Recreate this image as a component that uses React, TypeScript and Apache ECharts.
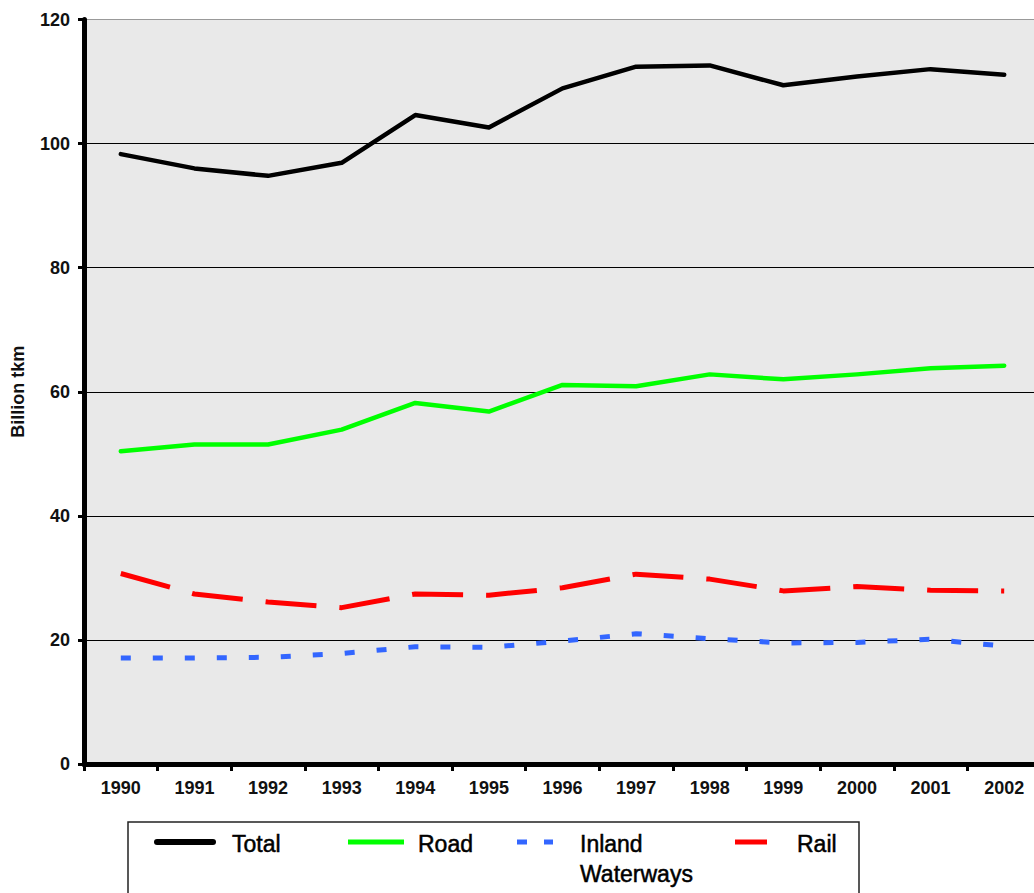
import React, { useEffect, useRef } from "react";
import * as echarts from "echarts";

const years = ["1990", "1991", "1992", "1993", "1994", "1995", "1996", "1997", "1998", "1999", "2000", "2001", "2002"];
const total = [98.3, 96.0, 94.8, 96.9, 104.6, 102.6, 108.9, 112.4, 112.6, 109.4, 110.8, 112.0, 111.1];
const road = [50.4, 51.5, 51.5, 53.9, 58.2, 56.8, 61.1, 60.9, 62.8, 62.0, 62.8, 63.8, 64.2];
const inland = [17.1, 17.1, 17.2, 17.8, 18.9, 18.8, 19.8, 21.0, 20.2, 19.5, 19.6, 20.1, 19.0];
const rail = [30.7, 27.4, 26.1, 25.2, 27.4, 27.2, 28.4, 30.6, 29.8, 27.9, 28.6, 28.0, 27.9];
const seriesNames = ["Total", "Road", "Inland\nWaterways", "Rail"];
const seriesColors = ["#000000", "#00ff00", "#3366ff", "#ff0000"];
const yTicks = { min: 0, max: 120, interval: 20 };
const yName = "Billion tkm";

const FONT = "Liberation Sans, Arial, sans-serif";

export default function App() {
  const ref = useRef<HTMLDivElement>(null);
  useEffect(() => {
    if (!ref.current) return;
    const chart = echarts.init(ref.current, undefined, { renderer: "svg" });
    const dataSets = [total, road, inland, rail];
    const dashes: any[] = ["solid", "solid", [10, 22], [51, 23]];
    const widths = [4.5, 4.5, 5, 5];

    const legendX = [157, 348, 517, 735];
    const textX = [232, 418, 580, 797];
    const legendY = 842;
    const legendGraphics: any[] = [
      {
        type: "rect",
        shape: { x: 128, y: 822, width: 731, height: 100 },
        style: { fill: "#ffffff", stroke: "#222", lineWidth: 1.5 },
        z: 10,
      },
    ];
    seriesNames.forEach((n, i) => {
      if (i === 2) {
        legendGraphics.push({
          type: "line",
          shape: { x1: 517, y1: legendY, x2: 553, y2: legendY },
          style: { stroke: seriesColors[i], lineWidth: 5, lineDash: [10, 17] },
          z: 11,
        });
      } else {
        const len = i === 3 ? 32 : 56;
        legendGraphics.push({
          type: "line",
          shape: { x1: legendX[i], y1: legendY, x2: legendX[i] + len, y2: legendY },
          style: { stroke: seriesColors[i], lineWidth: i === 0 ? 6 : 5, lineCap: i === 0 ? "round" : "butt" },
          z: 11,
        });
      }
      legendGraphics.push({
        type: "text",
        x: textX[i],
        y: legendY - 13,
        style: {
          text: n,
          fill: "#000",
          font: `normal 23px ${FONT}`,
          lineHeight: 30,
          textVerticalAlign: "top",
          stroke: "#000",
          lineWidth: 0.5,
        },
        z: 11,
      });
    });

    chart.setOption({
      animation: false,
      backgroundColor: "#ffffff",
      grid: {
        left: 84,
        top: 19.5,
        right: 19,
        bottom: 129,
        show: true,
        backgroundColor: "#e9e9e9",
        borderColor: "#999",
        borderWidth: 1,
      },
      xAxis: {
        type: "category",
        data: years,
        boundaryGap: true,
        axisLine: { lineStyle: { color: "#000", width: 5 } },
        axisTick: { show: true, length: 7, lineStyle: { color: "#000", width: 3 } },
        axisLabel: { color: "#111", fontFamily: FONT, fontWeight: "bold", fontSize: 18, margin: 15 },
        splitLine: { show: false },
      },
      yAxis: {
        type: "value",
        min: yTicks.min,
        max: yTicks.max,
        interval: yTicks.interval,
        name: yName,
        nameLocation: "middle",
        nameGap: 57,
        nameRotate: 90,
        nameTextStyle: { color: "#111", fontFamily: FONT, fontWeight: "bold", fontSize: 18 },
        axisLine: { show: true, lineStyle: { color: "#000", width: 5 } },
        axisTick: { show: true, length: 6, lineStyle: { color: "#000", width: 3 } },
        axisLabel: { color: "#111", fontFamily: FONT, fontWeight: "bold", fontSize: 18, margin: 14 },
        splitLine: { show: true, showMaxLine: false, lineStyle: { color: "#000", width: 1 } },
      },
      series: dataSets.map((d, i) => ({
        name: seriesNames[i],
        type: "line",
        data: d,
        symbol: "none",
        smooth: false,
        lineStyle: { color: seriesColors[i], width: widths[i], type: dashes[i], join: "round", cap: i < 2 ? "round" : "butt" },
        z: 5 - i,
      })),
      graphic: legendGraphics,
    });
    return () => chart.dispose();
  }, []);
  return (
    <div style={{ position: "absolute", left: 0, top: 0, width: 1034, height: 893, overflow: "hidden", background: "#fff" }}>
      <div ref={ref} style={{ width: 1060, height: 893 }} />
    </div>
  );
}
